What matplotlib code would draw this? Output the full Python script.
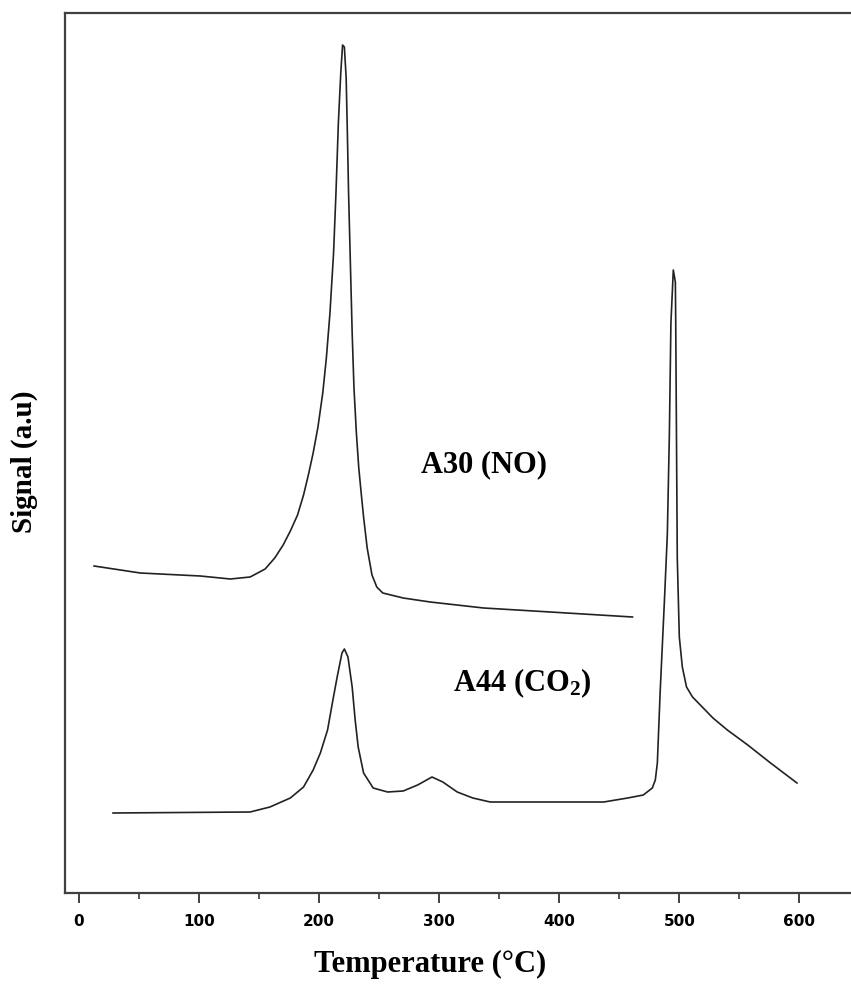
import numpy as np
import matplotlib
matplotlib.use("Agg")
import matplotlib.pyplot as plt
from matplotlib.ticker import MultipleLocator

plt.rcParams['mathtext.fontset'] = 'custom'
plt.rcParams['mathtext.rm'] = 'Liberation Serif:bold'
plt.rcParams['mathtext.bf'] = 'Liberation Serif:bold'
plt.rcParams['mathtext.default'] = 'bf'

# A30 (NO) trace
t_no = [12.5, 51, 101, 126, 142.5, 155, 163, 170, 176, 182, 187, 191, 195, 199,
        203, 206, 209, 212, 214, 216, 218, 219.5, 221, 222.5, 223.5, 224.5, 226,
        227.5, 229, 231, 233, 235, 237, 240, 244, 248, 253, 270, 292.5, 337,
        392.5, 461]
s_no = [327, 320, 317, 314, 316, 324, 335, 348, 362, 378, 398, 418, 440, 466,
        500, 535, 580, 640, 700, 770, 820, 848, 846, 815, 760, 700, 630,
        560, 505, 460, 425, 400, 376, 345, 318, 306, 300, 295, 291, 285,
        281, 276]

# A44 (CO2) trace
t_co2 = [28.3, 142.5, 159, 176, 187, 195, 201, 207, 211, 215, 219, 221, 224,
         227.5, 230, 232.5, 237, 245, 257, 270, 282, 294, 303, 315, 328, 342.5,
         437, 457, 470, 477.5, 480, 481.7, 484, 487.5, 490, 491.7, 493, 495,
         496.7, 497, 497.5, 498.3, 500, 502.5, 506, 511, 528, 540, 557, 576, 598]
s_co2 = [80, 81, 86, 95, 106, 123, 140, 163, 190, 216, 240, 244, 236,
         206, 173, 146, 120, 105, 101, 102, 108, 116, 111, 101, 95, 91,
         91, 95, 98, 105, 113, 130, 200, 290, 358, 458, 570, 623,
         611, 571, 480, 335, 256, 226, 206, 196, 175, 163, 148, 130, 110]

labels = ["A30 (NO)", "A44 (CO$_2$)"]
label_pos = [(337.5, 428), (369, 210)]

fig = plt.figure(figsize=(8.51, 9.88), dpi=100)
ax = fig.add_axes([65 / 851, 95 / 988, 786 / 851, 880 / 988])

ax.plot(t_no, s_no, color='#222222', lw=1.2)
ax.plot(t_co2, s_co2, color='#222222', lw=1.2)

for txt, (x, y) in zip(labels, label_pos):
    ax.text(x, y, txt, ha='center', va='center', fontsize=22,
            fontfamily='Liberation Serif', fontweight='bold')

ax.set_xlim(-11.7, 643)
ax.set_ylim(0, 880)
ax.set_yticks([])
ax.xaxis.set_major_locator(MultipleLocator(100))
ax.xaxis.set_minor_locator(MultipleLocator(50))
ax.tick_params(axis='x', which='major', direction='out', length=7, width=1.3,
               color='#333333', labelsize=11, pad=8)
ax.tick_params(axis='x', which='minor', direction='out', length=4, width=1.2,
               color='#333333')
for lab in ax.get_xticklabels():
    lab.set_fontweight('heavy')
    lab.set_fontfamily('DejaVu Sans')

ax.spines['right'].set_visible(False)
for sp in ['left', 'top', 'bottom']:
    ax.spines[sp].set_color('#404040')
    ax.spines[sp].set_linewidth(1.6)

ax.set_xlabel("Temperature (°C)", fontsize=22, fontfamily='Liberation Serif',
              fontweight='bold')
ax.xaxis.set_label_coords(0.464, -0.065)
ax.set_ylabel("Signal (a.u)", fontsize=21, fontfamily='Liberation Serif',
              fontweight='bold')
ax.yaxis.set_label_coords(-0.034, 0.49)

fig.savefig("out.png", dpi=100)
